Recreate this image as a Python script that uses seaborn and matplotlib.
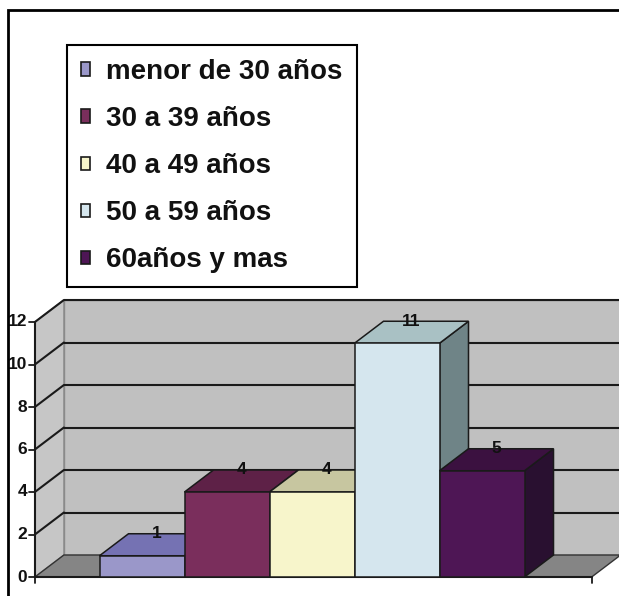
import matplotlib
matplotlib.use("Agg")
import matplotlib.pyplot as plt
import seaborn as sns
from matplotlib.patches import Polygon, Patch, Rectangle

# ---- data ----
categories = ["menor de 30 años", "30 a 39 años", "40 a 49 años", "50 a 59 años", "60años y mas"]
values = [1, 4, 4, 11, 5]
y_ticks = [0, 2, 4, 6, 8, 10, 12]
front_colors = ["#9a97c9", "#7a2e5c", "#f7f5cb", "#d5e6ee", "#4e1655"]
top_colors = ["#7572b3", "#5e2147", "#c7c6a0", "#a9c1c4", "#3b1140"]
side_colors = ["#5a5890", "#4a1a38", "#a8a785", "#6f8487", "#291030"]

sns.set_theme(style="white")
plt.rcParams['font.family'] = ['Liberation Sans', 'DejaVu Sans']

W, H = 619, 596
fig = plt.figure(figsize=(W / 100, H / 100), dpi=100)
fig.patch.set_facecolor("white")
ax = fig.add_axes([0, 0, 1, 1])

PX_X = 85.0    # px per category slot
PX_Y = 21.25   # px per value unit
X_ORIG = 142   # px column of category 0 centre
Y_ORIG = 577   # px row of value 0
DX = 29 / PX_X
DY = 22 / PX_Y
x0 = -0.5 - 0.76
x1 = len(values) - 0.5 + 0.79
ymax = y_ticks[-1]

# front faces through seaborn
sns.barplot(x=categories, y=values, hue=categories, palette=front_colors,
            width=1.0, edgecolor="#1a1a1a", linewidth=1.1, legend=False,
            saturation=1, ax=ax)

ax.set_xlim(-X_ORIG / PX_X, (W - X_ORIG) / PX_X)
ax.set_ylim(-(H - Y_ORIG) / PX_Y, Y_ORIG / PX_Y)
ax.set_axis_off()

# walls and floor
back = Polygon([(x0 + DX, DY), (x1 + DX, DY), (x1 + DX, ymax + DY), (x0 + DX, ymax + DY)],
               closed=True, fc="#c0c0c0", ec="#8a8a8a", lw=1, zorder=1)
left = Polygon([(x0, 0), (x0 + DX, DY), (x0 + DX, ymax + DY), (x0, ymax)],
               closed=True, fc="#c6c6c6", ec="#8a8a8a", lw=1, zorder=1)
floor = Polygon([(x0, 0), (x1, 0), (x1 + DX, DY), (x0 + DX, DY)],
                closed=True, fc="#858585", ec="#333333", lw=1, zorder=2)
for p in (back, left, floor):
    ax.add_patch(p)

for v in y_ticks[1:]:
    ax.plot([x0 + DX, x1 + DX], [v + DY, v + DY], color="#1a1a1a", lw=1.5, zorder=3,
            solid_capstyle="butt")
    ax.plot([x0, x0 + DX], [v, v + DY], color="#1a1a1a", lw=1.5, zorder=3)

# axes lines and ticks
ax.plot([x0, x0], [0, ymax], color="#1a1a1a", lw=1.5, zorder=4)
ax.plot([x0, x1], [0, 0], color="#1a1a1a", lw=1.5, zorder=4)
tick_len = 6 / PX_X
for v in y_ticks:
    ax.plot([x0 - tick_len, x0], [v, v], color="#1a1a1a", lw=1.3, zorder=4)
    ax.text(x0 - 8 / PX_X, v, str(v), ha="right", va="center", fontsize=12.5,
            fontweight="bold", color="#111111", zorder=5)
for xx in (x0, x1):
    ax.plot([xx, xx], [0, -6 / PX_Y], color="#1a1a1a", lw=1.3, zorder=4)

# 3D tops and sides from the seaborn bars
bars = [p for p in ax.patches if isinstance(p, Rectangle) and p.get_height() > 0][:len(values)]
for i, (b, v) in enumerate(zip(bars, values)):
    xl = b.get_x()
    xr = xl + b.get_width()
    h = b.get_height()
    base = 10 + 3 * i
    side = Polygon([(xr, 0), (xr + DX, DY), (xr + DX, h + DY), (xr, h)], closed=True,
                   fc=side_colors[i], ec="#1a1a1a", lw=1.1, zorder=base)
    top = Polygon([(xl, h), (xr, h), (xr + DX, h + DY), (xl + DX, h + DY)], closed=True,
                  fc=top_colors[i], ec="#1a1a1a", lw=1.1, zorder=base + 1)
    ax.add_patch(side)
    ax.add_patch(top)
    b.set_zorder(base + 2)
    ax.text(xl + b.get_width() / 2 + DX / 2, h + DY, str(v), ha="center", va="center",
            fontsize=12.5, fontweight="bold", color="#111111", zorder=40)

# legend
handles = [Patch(fc=c, ec="#1a1a1a", lw=1.2) for c in front_colors]
leg = fig.legend(handles, categories, loc="upper left",
                 bbox_to_anchor=(67 / W, 1 - 45 / H), bbox_transform=fig.transFigure,
                 prop={"family": "Liberation Sans", "weight": "bold", "size": 20},
                 frameon=True, fancybox=False, framealpha=1, edgecolor="black",
                 borderpad=0.5, labelspacing=0.76, handlelength=0.32, handleheight=0.36,
                 handletextpad=0.6, borderaxespad=0)
leg.get_frame().set_linewidth(1.5)
for t in leg.get_texts():
    t.set_color("#111111")

# outer frame
fig.add_artist(Rectangle((8 / W, -0.5), 2, 1.5 - 10 / H, transform=fig.transFigure,
                         fill=False, ec="black", lw=2))

fig.savefig("out.png", dpi=100)
